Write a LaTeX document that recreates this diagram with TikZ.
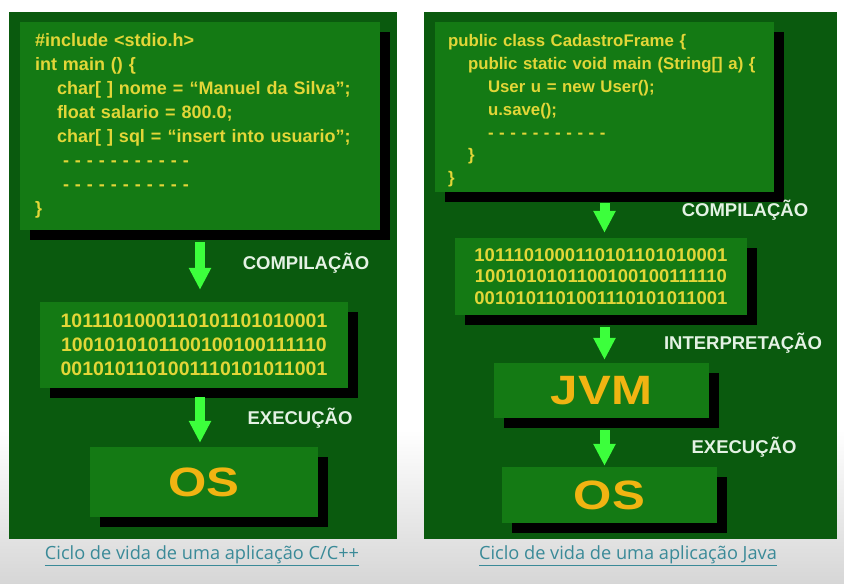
\documentclass[tikz,border=0pt]{standalone}
\usepackage{fontspec}
\setmainfont{Liberation Sans}
\newfontfamily\capfont{Open Sans}
\usetikzlibrary{arrows.meta,shadows}
\definecolor{panelgreen}{RGB}{10,90,14}
\definecolor{boxgreen}{RGB}{20,122,20}
\definecolor{codeyellow}{RGB}{226,214,56}
\definecolor{osorange}{RGB}{240,180,18}
\definecolor{flowgreen}{RGB}{60,255,60}
\definecolor{labelwhite}{RGB}{228,242,228}
\definecolor{captionteal}{RGB}{58,138,152}

\begin{document}
\begin{tikzpicture}[x=1pt,y=-1pt,
  panel/.style={fill=panelgreen, inner sep=0pt, minimum height=527pt},
  slab/.style={fill=boxgreen, inner sep=0pt, general shadow={fill=black, shadow xshift=10pt, shadow yshift=-10pt}},
  codetext/.style={text=codeyellow, align=left, font=\fontsize{18}{24}\selectfont\bfseries},
  bits/.style={text=codeyellow, align=center, font=\fontsize{19.5}{24}\selectfont\bfseries},
  big/.style={text=osorange, font=\fontsize{41}{41}\selectfont\bfseries},
  stage/.style={text=labelwhite, font=\fontsize{18.5}{20}\selectfont\bfseries},
  flow/.style={draw=flowgreen, line width=10pt, -{Triangle[width=21pt,length=22pt]}},
  caption/.style={text=captionteal, font=\capfont\fontsize{18.2}{20}\selectfont}]
  \useasboundingbox (0,0) rectangle (844,584);
  \fill[white] (0,0) rectangle (844,584);
  \shade[top color=white, bottom color=gray!32] (0,430) rectangle (844,584);

  % C/C++ side
  \node[panel, minimum width=388pt] (panelC) at (203,275.5) {};
  \node[slab, codetext, minimum width=360pt, minimum height=208pt, text width=330pt] (codeC) at (200,126)
    {\#include <stdio.h>\\
     int main () \{\\
     \hspace*{22pt}char[ ] nome = “Manuel da Silva”;\\
     \hspace*{22pt}float salario = 800.0;\\
     \hspace*{22pt}char[ ] sql = “insert into usuario”;\\
     \hspace*{28pt}- - - - - - - - - - -\\
     \hspace*{28pt}- - - - - - - - - - -\\
     \}};
  \node[slab, bits, minimum width=308pt, minimum height=86pt] (binC) at (194,345)
    {1011101000110101101010001\\1001010101100100100111110\\0010101101001110101011001};
  \node[slab, big, minimum width=228pt, minimum height=70pt] (osC) at (204,482) {\scalebox{1.2}[1]{OS}};
  \draw[flow, shorten <=12pt, shorten >=12pt] (codeC.south) -- (codeC.south |- binC.north);
  \draw[flow, shorten <=9pt, shorten >=4pt] (binC.south -| codeC.south) -- (osC.north -| codeC.south);
  \node[stage] (compC) at (306,263) {COMPILAÇÃO};
  \node[stage] (execC) at (300,418) {EXECUÇÃO};

  % Java side
  \node[panel, minimum width=413pt] (panelJ) at (630.5,275.5) {};
  \node[slab, codetext, minimum width=339pt, minimum height=170pt, text width=313pt, font=\fontsize{16.8}{22.8}\selectfont\bfseries] (codeJ) at (604.5,107)
    {\rule{0pt}{20pt}public class CadastroFrame \{\\
     \hspace*{20pt}public static void main (String[] a) \{\\
     \hspace*{40pt}User u = new User();\\
     \hspace*{40pt}u.save();\\
     \hspace*{40pt}- - - - - - - - - - -\\
     \hspace*{20pt}\}\\
     \}};
  \node[slab, bits, minimum width=292pt, minimum height=77pt, font=\fontsize{18.5}{21.5}\selectfont\bfseries] (binJ) at (601,276.5)
    {1011101000110101101010001\\1001010101100100100111110\\0010101101001110101011001};
  \node[slab, big, minimum width=215pt, minimum height=55pt] (jvm) at (601.5,390.5) {\scalebox{1.2}[1]{JVM}};
  \node[slab, big, minimum width=215pt, minimum height=56pt] (osJ) at (609.5,495) {\scalebox{1.2}[1]{OS}};
  \draw[flow, shorten <=11pt, shorten >=5pt] (codeJ.south) -- (codeJ.south |- binJ.north);
  \draw[flow, shorten <=12pt, shorten >=3pt] (binJ.south -| codeJ.south) -- (jvm.north -| codeJ.south);
  \draw[flow, shorten <=12pt, shorten >=1pt] (jvm.south -| codeJ.south) -- (osJ.north -| codeJ.south);
  \node[stage] (compJ) at (745,210) {COMPILAÇÃO};
  \node[stage] (interp) at (743,343) {INTERPRETAÇÃO};
  \node[stage] (execJ) at (744,447) {EXECUÇÃO};

  % captions
  \node[caption] (capC) at (202,556) {\underline{Ciclo de vida de uma aplicação C/C++}};
  \node[caption] (capJ) at (628,556) {\underline{Ciclo de vida de uma aplicação Java}};
\end{tikzpicture}
\end{document}
